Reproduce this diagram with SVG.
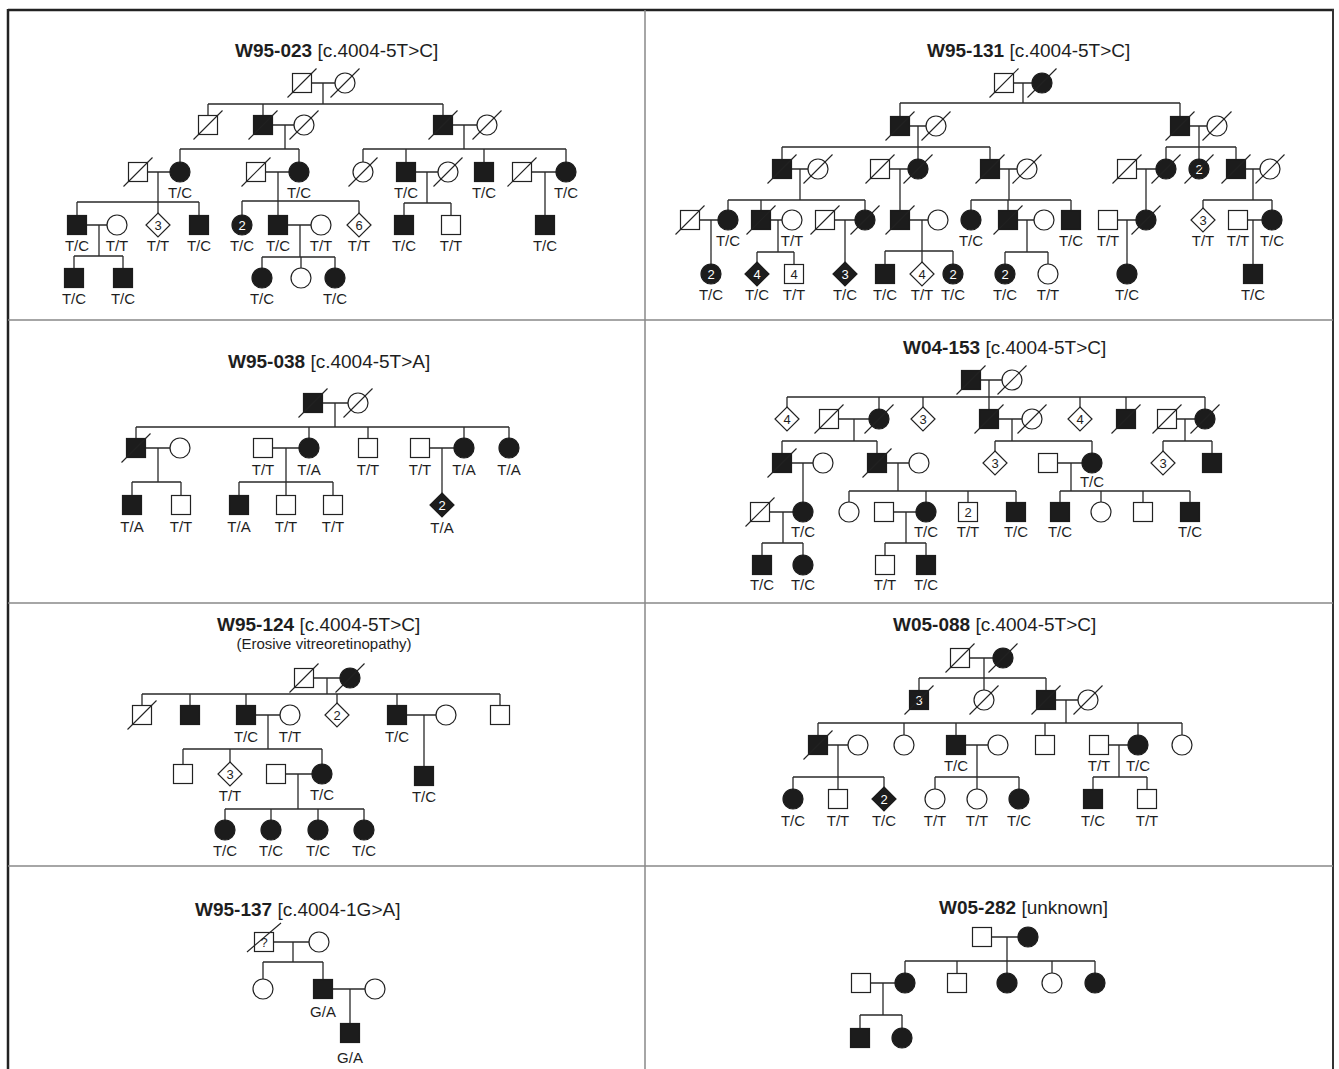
<svg xmlns="http://www.w3.org/2000/svg" xmlns:xlink="http://www.w3.org/1999/xlink" width="1339" height="1069" viewBox="0 0 1339 1069">
<style>
text{font-family:"Liberation Sans",Arial,sans-serif;fill:#1e1e1e}
.lb{font-size:15px;text-anchor:middle}
.n{font-size:13px;text-anchor:middle}
.w{fill:#fff}
.tt{font-size:19px}
.tb{font-weight:bold}
.st{font-size:15px;text-anchor:middle}
.cn path{fill:none;stroke:#2a2a2a;stroke-width:1.3}
</style>
<defs>
<rect id="s" x="-9.5" y="-9.5" width="19" height="19" fill="#fff" stroke="#222" stroke-width="1.2"/>
<rect id="S" x="-9.5" y="-9.5" width="19" height="19" fill="#1c1c1c" stroke="#1c1c1c" stroke-width="1.2"/>
<circle id="c" r="10" fill="#fff" stroke="#222" stroke-width="1.2"/>
<circle id="C" r="10" fill="#1c1c1c" stroke="#1c1c1c" stroke-width="1.2"/>
<polygon id="r" points="0,-12 12,0 0,12 -12,0" fill="#fff" stroke="#222" stroke-width="1.2"/>
<polygon id="R" points="0,-12 12,0 0,12 -12,0" fill="#1c1c1c" stroke="#1c1c1c" stroke-width="1.2"/>
<line id="x" x1="-14.5" y1="14.5" x2="14.5" y2="-14.5" stroke="#222" stroke-width="1.1"/>
</defs>
<rect width="1339" height="1069" fill="#fff"/>
<g id="frame">
<line x1="8" y1="10" x2="1334" y2="10" stroke="#222" stroke-width="2.5"/>
<line x1="8" y1="9" x2="8" y2="1069" stroke="#222" stroke-width="2.5"/>
<line x1="1333" y1="9" x2="1333" y2="1069" stroke="#333" stroke-width="2"/>
<line x1="645" y1="10" x2="645" y2="1069" stroke="#888" stroke-width="1.5"/>
<line x1="8" y1="320" x2="1333" y2="320" stroke="#888" stroke-width="1.5"/>
<line x1="8" y1="603" x2="1333" y2="603" stroke="#888" stroke-width="1.5"/>
<line x1="8" y1="866" x2="1333" y2="866" stroke="#888" stroke-width="1.5"/>
</g>
<g id="titles">
<text class="tt" x="235" y="57"><tspan class="tb">W95-023</tspan> [c.4004-5T&gt;C]</text>
<text class="tt" x="927" y="57"><tspan class="tb">W95-131</tspan> [c.4004-5T&gt;C]</text>
<text class="tt" x="228" y="368"><tspan class="tb">W95-038</tspan> [c.4004-5T&gt;A]</text>
<text class="tt" x="903" y="354"><tspan class="tb">W04-153</tspan> [c.4004-5T&gt;C]</text>
<text class="tt" x="217" y="631"><tspan class="tb">W95-124</tspan> [c.4004-5T&gt;C]</text>
<text class="st" x="324" y="649">(Erosive vitreoretinopathy)</text>
<text class="tt" x="893" y="631"><tspan class="tb">W05-088</tspan> [c.4004-5T&gt;C]</text>
<text class="tt" x="195" y="916"><tspan class="tb">W95-137</tspan> [c.4004-1G&gt;A]</text>
<text class="tt" x="939" y="914"><tspan class="tb">W05-282</tspan> [unknown]</text>
</g>
<g id="connectors" class="cn">
<path d="M302 83H345M323 83V104M208 104H443M208 104V125M263 104V125M443 104V125M263 125H304M285 125V149M180 149H299M180 149V172M299 149V172M443 125H487M464 125V149M363 149H566M363 149V172M406 149V172M484 149V172M566 149V172M138 172H180M158 172V202M77 202H199M77 202V225M158 202V225M199 202V225M256 172H299M278 172V201M242 201H359M242 201V225M278 201V225M359 201V225M406 172H448M427 172V203M404 203H451M404 203V225M451 203V225M522 172H566M545 172V225M77 225H117M99 225V256M74 256H123M74 256V278M123 256V278M278 225H321M300 225V257M262 257H335M262 257V278M301 257V278M335 257V278"/>
<path d="M1004 83H1042M1023 83V103M900 103H1180M900 103V126M1180 103V126M900 126H936M918 126V147M782 147H990M782 147V169M918 147V169M990 147V169M1180 126H1217M1199 126V147M1166 147H1236M1166 147V169M1199 147V169M1236 147V169M782 169H818M800 169V200M728 200H865M728 200V220M761 200V220M865 200V220M880 169H918M900 169V220M990 169H1027M1009 169V200M971 200H1071M971 200V220M1008 200V220M1071 200V220M1127 169H1166M1146 169V220M1236 169H1270M1253 169V200M1203 200H1272M1203 200V220M1272 200V220M690 220H728M711 220V274M761 220H792M778 220V252M757 252H794M757 252V274M794 252V274M825 220H865M845 220V274M900 220H938M922 220V251M885 251H953M885 251V274M922 251V274M953 251V274M1008 220H1044M1027 220V252M1005 252H1048M1005 252V274M1048 252V274M1108 220H1146M1127 220V274M1238 220H1272M1253 220V274"/>
<path d="M313 403H358M335 403V427M136 427H509M136 427V448M309 427V448M368 427V448M464 427V448M509 427V448M136 448H180M158 448V482M132 482H181M132 482V505M181 482V505M263 448H309M286 448V482M239 482H333M239 482V505M286 482V505M333 482V505M420 448H464M442 448V505"/>
<path d="M971 380H1012M989 380V397M787 397H1205M787 397V419M879 397V419M923 397V419M989 397V419M1080 397V419M1126 397V419M1205 397V419M829 419H879M854 419V441M782 441H877M782 441V463M877 441V463M989 419H1032M1012 419V441M995 441H1092M995 441V463M1092 441V463M1167 419H1205M1185 419V441M1163 441H1212M1163 441V463M1212 441V463M782 463H823M803 463V512M877 463H919M898 463V491M849 491H1016M849 491V512M926 491V512M968 491V512M1016 491V512M1048 463H1092M1071 463V491M1060 491H1190M1060 491V512M1101 491V512M1143 491V512M1190 491V512M760 512H803M783 512V543M762 543H803M762 543V565M803 543V565M884 512H926M906 512V543M885 543H926M885 543V565M926 543V565"/>
<path d="M304 678H350M327 678V694M142 694H500M142 694V715M190 694V715M246 694V715M337 694V715M397 694V715M500 694V715M246 715H290M268 715V749M183 749H322M183 749V774M230 749V774M322 749V774M397 715H446M424 715V776M276 774H322M298 774V809M225 809H364M225 809V830M271 809V830M318 809V830M364 809V830"/>
<path d="M960 658H1003M984 658V700M919 678H1046M919 678V700M1046 678V700M1046 700H1088M1066 700V723M818 723H1182M818 723V745M904 723V745M956 723V745M1045 723V745M1138 723V745M1182 723V745M818 745H858M838 745V777M793 777H884M793 777V799M838 777V799M884 777V799M956 745H998M977 745V777M935 777H1019M935 777V799M977 777V799M1019 777V799M1099 745H1138M1119 745V777M1093 777H1147M1093 777V799M1147 777V799"/>
<path d="M264 942H319M293 942V962M263 962H323M263 962V989M323 962V989M323 989H375M350 989V1033"/>
<path d="M982 937H1028M1007 937V961M905 961H1095M905 961V983M957 961V983M1007 961V983M1052 961V983M1095 961V983M861 983H905M883 983V1015M860 1015H902M860 1015V1038M902 1015V1038"/>
</g>
<g id="W95-023">
<g id="a1" transform="translate(302,83)"><use href="#s"/><use href="#x"/></g>
<g id="a2" transform="translate(345,83)"><use href="#c"/><use href="#x"/></g>
<g id="a3" transform="translate(208,125)"><use href="#s"/><use href="#x"/></g>
<g id="a4" transform="translate(263,125)"><use href="#S"/><use href="#x"/></g>
<g id="a5" transform="translate(304,125)"><use href="#c"/><use href="#x"/></g>
<g id="a6" transform="translate(443,125)"><use href="#S"/><use href="#x"/></g>
<g id="a7" transform="translate(487,125)"><use href="#c"/><use href="#x"/></g>
<g id="a8" transform="translate(138,172)"><use href="#s"/><use href="#x"/></g>
<g id="a9" transform="translate(180,172)"><use href="#C"/><text class="lb" y="26">T/C</text></g>
<g id="a10" transform="translate(256,172)"><use href="#s"/><use href="#x"/></g>
<g id="a11" transform="translate(299,172)"><use href="#C"/><text class="lb" y="26">T/C</text></g>
<g id="a12" transform="translate(363,172)"><use href="#c"/><use href="#x"/></g>
<g id="a13" transform="translate(406,172)"><use href="#S"/><text class="lb" y="26">T/C</text></g>
<g id="a14" transform="translate(448,172)"><use href="#c"/><use href="#x"/></g>
<g id="a15" transform="translate(484,172)"><use href="#S"/><text class="lb" y="26">T/C</text></g>
<g id="a16" transform="translate(522,172)"><use href="#s"/><use href="#x"/></g>
<g id="a17" transform="translate(566,172)"><use href="#C"/><text class="lb" y="26">T/C</text></g>
<g id="a18" transform="translate(77,225)"><use href="#S"/><text class="lb" y="26">T/C</text></g>
<g id="a19" transform="translate(117,225)"><use href="#c"/><text class="lb" y="26">T/T</text></g>
<g id="a20" transform="translate(158,225)"><use href="#r"/><text class="n" y="4.5">3</text><text class="lb" y="26">T/T</text></g>
<g id="a21" transform="translate(199,225)"><use href="#S"/><text class="lb" y="26">T/C</text></g>
<g id="a22" transform="translate(242,225)"><use href="#C"/><text class="n w" y="4.5">2</text><text class="lb" y="26">T/C</text></g>
<g id="a23" transform="translate(278,225)"><use href="#S"/><text class="lb" y="26">T/C</text></g>
<g id="a24" transform="translate(321,225)"><use href="#c"/><text class="lb" y="26">T/T</text></g>
<g id="a25" transform="translate(359,225)"><use href="#r"/><text class="n" y="4.5">6</text><text class="lb" y="26">T/T</text></g>
<g id="a26" transform="translate(404,225)"><use href="#S"/><text class="lb" y="26">T/C</text></g>
<g id="a27" transform="translate(451,225)"><use href="#s"/><text class="lb" y="26">T/T</text></g>
<g id="a28" transform="translate(545,225)"><use href="#S"/><text class="lb" y="26">T/C</text></g>
<g id="a29" transform="translate(74,278)"><use href="#S"/><text class="lb" y="26">T/C</text></g>
<g id="a30" transform="translate(123,278)"><use href="#S"/><text class="lb" y="26">T/C</text></g>
<g id="a31" transform="translate(262,278)"><use href="#C"/><text class="lb" y="26">T/C</text></g>
<g id="a32" transform="translate(301,278)"><use href="#c"/></g>
<g id="a33" transform="translate(335,278)"><use href="#C"/><text class="lb" y="26">T/C</text></g>
</g>
<g id="W95-131">
<g id="b1" transform="translate(1004,83)"><use href="#s"/><use href="#x"/></g>
<g id="b2" transform="translate(1042,83)"><use href="#C"/><use href="#x"/></g>
<g id="b3" transform="translate(900,126)"><use href="#S"/><use href="#x"/></g>
<g id="b4" transform="translate(936,126)"><use href="#c"/><use href="#x"/></g>
<g id="b5" transform="translate(1180,126)"><use href="#S"/><use href="#x"/></g>
<g id="b6" transform="translate(1217,126)"><use href="#c"/><use href="#x"/></g>
<g id="b7" transform="translate(782,169)"><use href="#S"/><use href="#x"/></g>
<g id="b8" transform="translate(818,169)"><use href="#c"/><use href="#x"/></g>
<g id="b9" transform="translate(880,169)"><use href="#s"/><use href="#x"/></g>
<g id="b10" transform="translate(918,169)"><use href="#C"/><use href="#x"/></g>
<g id="b11" transform="translate(990,169)"><use href="#S"/><use href="#x"/></g>
<g id="b12" transform="translate(1027,169)"><use href="#c"/><use href="#x"/></g>
<g id="b13" transform="translate(1127,169)"><use href="#s"/><use href="#x"/></g>
<g id="b14" transform="translate(1166,169)"><use href="#C"/><use href="#x"/></g>
<g id="b15" transform="translate(1199,169)"><use href="#C"/><text class="n w" y="4.5">2</text><use href="#x"/></g>
<g id="b16" transform="translate(1236,169)"><use href="#S"/><use href="#x"/></g>
<g id="b17" transform="translate(1270,169)"><use href="#c"/><use href="#x"/></g>
<g id="b18" transform="translate(690,220)"><use href="#s"/><use href="#x"/></g>
<g id="b19" transform="translate(728,220)"><use href="#C"/><text class="lb" y="26">T/C</text></g>
<g id="b20" transform="translate(761,220)"><use href="#S"/><use href="#x"/></g>
<g id="b21" transform="translate(792,220)"><use href="#c"/><text class="lb" y="26">T/T</text></g>
<g id="b22" transform="translate(825,220)"><use href="#s"/><use href="#x"/></g>
<g id="b23" transform="translate(865,220)"><use href="#C"/><use href="#x"/></g>
<g id="b24" transform="translate(900,220)"><use href="#S"/><use href="#x"/></g>
<g id="b25" transform="translate(938,220)"><use href="#c"/></g>
<g id="b26" transform="translate(971,220)"><use href="#C"/><text class="lb" y="26">T/C</text></g>
<g id="b27" transform="translate(1008,220)"><use href="#S"/><use href="#x"/></g>
<g id="b28" transform="translate(1044,220)"><use href="#c"/></g>
<g id="b29" transform="translate(1071,220)"><use href="#S"/><text class="lb" y="26">T/C</text></g>
<g id="b30" transform="translate(1108,220)"><use href="#s"/><text class="lb" y="26">T/T</text></g>
<g id="b31" transform="translate(1146,220)"><use href="#C"/><use href="#x"/></g>
<g id="b32" transform="translate(1203,220)"><use href="#r"/><text class="n" y="4.5">3</text><text class="lb" y="26">T/T</text></g>
<g id="b33" transform="translate(1238,220)"><use href="#s"/><text class="lb" y="26">T/T</text></g>
<g id="b34" transform="translate(1272,220)"><use href="#C"/><text class="lb" y="26">T/C</text></g>
<g id="b35" transform="translate(711,274)"><use href="#C"/><text class="n w" y="4.5">2</text><text class="lb" y="26">T/C</text></g>
<g id="b36" transform="translate(757,274)"><use href="#R"/><text class="n w" y="4.5">4</text><text class="lb" y="26">T/C</text></g>
<g id="b37" transform="translate(794,274)"><use href="#s"/><text class="n" y="4.5">4</text><text class="lb" y="26">T/T</text></g>
<g id="b38" transform="translate(845,274)"><use href="#R"/><text class="n w" y="4.5">3</text><text class="lb" y="26">T/C</text></g>
<g id="b39" transform="translate(885,274)"><use href="#S"/><text class="lb" y="26">T/C</text></g>
<g id="b40" transform="translate(922,274)"><use href="#r"/><text class="n" y="4.5">4</text><text class="lb" y="26">T/T</text></g>
<g id="b41" transform="translate(953,274)"><use href="#C"/><text class="n w" y="4.5">2</text><text class="lb" y="26">T/C</text></g>
<g id="b42" transform="translate(1005,274)"><use href="#C"/><text class="n w" y="4.5">2</text><text class="lb" y="26">T/C</text></g>
<g id="b43" transform="translate(1048,274)"><use href="#c"/><text class="lb" y="26">T/T</text></g>
<g id="b44" transform="translate(1127,274)"><use href="#C"/><text class="lb" y="26">T/C</text></g>
<g id="b45" transform="translate(1253,274)"><use href="#S"/><text class="lb" y="26">T/C</text></g>
</g>
<g id="W95-038">
<g id="c1" transform="translate(313,403)"><use href="#S"/><use href="#x"/></g>
<g id="c2" transform="translate(358,403)"><use href="#c"/><use href="#x"/></g>
<g id="c3" transform="translate(136,448)"><use href="#S"/><use href="#x"/></g>
<g id="c4" transform="translate(180,448)"><use href="#c"/></g>
<g id="c5" transform="translate(263,448)"><use href="#s"/><text class="lb" y="27">T/T</text></g>
<g id="c6" transform="translate(309,448)"><use href="#C"/><text class="lb" y="27">T/A</text></g>
<g id="c7" transform="translate(368,448)"><use href="#s"/><text class="lb" y="27">T/T</text></g>
<g id="c8" transform="translate(420,448)"><use href="#s"/><text class="lb" y="27">T/T</text></g>
<g id="c9" transform="translate(464,448)"><use href="#C"/><text class="lb" y="27">T/A</text></g>
<g id="c10" transform="translate(509,448)"><use href="#C"/><text class="lb" y="27">T/A</text></g>
<g id="c11" transform="translate(132,505)"><use href="#S"/><text class="lb" y="27">T/A</text></g>
<g id="c12" transform="translate(181,505)"><use href="#s"/><text class="lb" y="27">T/T</text></g>
<g id="c13" transform="translate(239,505)"><use href="#S"/><text class="lb" y="27">T/A</text></g>
<g id="c14" transform="translate(286,505)"><use href="#s"/><text class="lb" y="27">T/T</text></g>
<g id="c15" transform="translate(333,505)"><use href="#s"/><text class="lb" y="27">T/T</text></g>
<g id="c16" transform="translate(442,505)"><use href="#R"/><text class="n w" y="4.5">2</text><text class="lb" y="28">T/A</text></g>
</g>
<g id="W04-153">
<g id="e1" transform="translate(971,380)"><use href="#S"/><use href="#x"/></g>
<g id="e2" transform="translate(1012,380)"><use href="#c"/><use href="#x"/></g>
<g id="e3" transform="translate(787,419)"><use href="#r"/><text class="n" y="4.5">4</text></g>
<g id="e4" transform="translate(829,419)"><use href="#s"/><use href="#x"/></g>
<g id="e5" transform="translate(879,419)"><use href="#C"/><use href="#x"/></g>
<g id="e6" transform="translate(923,419)"><use href="#r"/><text class="n" y="4.5">3</text></g>
<g id="e7" transform="translate(989,419)"><use href="#S"/><use href="#x"/></g>
<g id="e8" transform="translate(1032,419)"><use href="#c"/><use href="#x"/></g>
<g id="e9" transform="translate(1080,419)"><use href="#r"/><text class="n" y="4.5">4</text></g>
<g id="e10" transform="translate(1126,419)"><use href="#S"/><use href="#x"/></g>
<g id="e11" transform="translate(1167,419)"><use href="#s"/><use href="#x"/></g>
<g id="e12" transform="translate(1205,419)"><use href="#C"/><use href="#x"/></g>
<g id="e13" transform="translate(782,463)"><use href="#S"/><use href="#x"/></g>
<g id="e14" transform="translate(823,463)"><use href="#c"/></g>
<g id="e15" transform="translate(877,463)"><use href="#S"/><use href="#x"/></g>
<g id="e16" transform="translate(919,463)"><use href="#c"/></g>
<g id="e17" transform="translate(995,463)"><use href="#r"/><text class="n" y="4.5">3</text></g>
<g id="e18" transform="translate(1048,463)"><use href="#s"/></g>
<g id="e19" transform="translate(1092,463)"><use href="#C"/><text class="lb" y="24">T/C</text></g>
<g id="e20" transform="translate(1163,463)"><use href="#r"/><text class="n" y="4.5">3</text></g>
<g id="e21" transform="translate(1212,463)"><use href="#S"/></g>
<g id="e22" transform="translate(760,512)"><use href="#s"/><use href="#x"/></g>
<g id="e23" transform="translate(803,512)"><use href="#C"/><text class="lb" y="25">T/C</text></g>
<g id="e24" transform="translate(849,512)"><use href="#c"/></g>
<g id="e25" transform="translate(884,512)"><use href="#s"/></g>
<g id="e26" transform="translate(926,512)"><use href="#C"/><text class="lb" y="25">T/C</text></g>
<g id="e27" transform="translate(968,512)"><use href="#s"/><text class="n" y="4.5">2</text><text class="lb" y="25">T/T</text></g>
<g id="e28" transform="translate(1016,512)"><use href="#S"/><text class="lb" y="25">T/C</text></g>
<g id="e29" transform="translate(1060,512)"><use href="#S"/><text class="lb" y="25">T/C</text></g>
<g id="e30" transform="translate(1101,512)"><use href="#c"/></g>
<g id="e31" transform="translate(1143,512)"><use href="#s"/></g>
<g id="e32" transform="translate(1190,512)"><use href="#S"/><text class="lb" y="25">T/C</text></g>
<g id="e33" transform="translate(762,565)"><use href="#S"/><text class="lb" y="25">T/C</text></g>
<g id="e34" transform="translate(803,565)"><use href="#C"/><text class="lb" y="25">T/C</text></g>
<g id="e35" transform="translate(885,565)"><use href="#s"/><text class="lb" y="25">T/T</text></g>
<g id="e36" transform="translate(926,565)"><use href="#S"/><text class="lb" y="25">T/C</text></g>
</g>
<g id="W95-124">
<g id="f1" transform="translate(304,678)"><use href="#s"/><use href="#x"/></g>
<g id="f2" transform="translate(350,678)"><use href="#C"/><use href="#x"/></g>
<g id="f3" transform="translate(142,715)"><use href="#s"/><use href="#x"/></g>
<g id="f4" transform="translate(190,715)"><use href="#S"/></g>
<g id="f5" transform="translate(246,715)"><use href="#S"/><text class="lb" y="27">T/C</text></g>
<g id="f6" transform="translate(290,715)"><use href="#c"/><text class="lb" y="27">T/T</text></g>
<g id="f7" transform="translate(337,715)"><use href="#r"/><text class="n" y="4.5">2</text></g>
<g id="f8" transform="translate(397,715)"><use href="#S"/><text class="lb" y="27">T/C</text></g>
<g id="f9" transform="translate(446,715)"><use href="#c"/></g>
<g id="f10" transform="translate(500,715)"><use href="#s"/></g>
<g id="f11" transform="translate(183,774)"><use href="#s"/></g>
<g id="f12" transform="translate(230,774)"><use href="#r"/><text class="n" y="4.5">3</text><text class="lb" y="27">T/T</text></g>
<g id="f13" transform="translate(276,774)"><use href="#s"/></g>
<g id="f14" transform="translate(322,774)"><use href="#C"/><text class="lb" y="26">T/C</text></g>
<g id="f15" transform="translate(424,776)"><use href="#S"/><text class="lb" y="26">T/C</text></g>
<g id="f16" transform="translate(225,830)"><use href="#C"/><text class="lb" y="26">T/C</text></g>
<g id="f17" transform="translate(271,830)"><use href="#C"/><text class="lb" y="26">T/C</text></g>
<g id="f18" transform="translate(318,830)"><use href="#C"/><text class="lb" y="26">T/C</text></g>
<g id="f19" transform="translate(364,830)"><use href="#C"/><text class="lb" y="26">T/C</text></g>
</g>
<g id="W05-088">
<g id="g1" transform="translate(960,658)"><use href="#s"/><use href="#x"/></g>
<g id="g2" transform="translate(1003,658)"><use href="#C"/><use href="#x"/></g>
<g id="g3" transform="translate(919,700)"><use href="#S"/><text class="n w" y="4.5">3</text><use href="#x"/></g>
<g id="g4" transform="translate(984,700)"><use href="#c"/><use href="#x"/></g>
<g id="g5" transform="translate(1046,700)"><use href="#S"/><use href="#x"/></g>
<g id="g6" transform="translate(1088,700)"><use href="#c"/><use href="#x"/></g>
<g id="g7" transform="translate(818,745)"><use href="#S"/><use href="#x"/></g>
<g id="g8" transform="translate(858,745)"><use href="#c"/></g>
<g id="g9" transform="translate(904,745)"><use href="#c"/></g>
<g id="g10" transform="translate(956,745)"><use href="#S"/><text class="lb" y="26">T/C</text></g>
<g id="g11" transform="translate(998,745)"><use href="#c"/></g>
<g id="g12" transform="translate(1045,745)"><use href="#s"/></g>
<g id="g13" transform="translate(1099,745)"><use href="#s"/><text class="lb" y="26">T/T</text></g>
<g id="g14" transform="translate(1138,745)"><use href="#C"/><text class="lb" y="26">T/C</text></g>
<g id="g15" transform="translate(1182,745)"><use href="#c"/></g>
<g id="g16" transform="translate(793,799)"><use href="#C"/><text class="lb" y="27">T/C</text></g>
<g id="g17" transform="translate(838,799)"><use href="#s"/><text class="lb" y="27">T/T</text></g>
<g id="g18" transform="translate(884,799)"><use href="#R"/><text class="n w" y="4.5">2</text><text class="lb" y="27">T/C</text></g>
<g id="g19" transform="translate(935,799)"><use href="#c"/><text class="lb" y="27">T/T</text></g>
<g id="g20" transform="translate(977,799)"><use href="#c"/><text class="lb" y="27">T/T</text></g>
<g id="g21" transform="translate(1019,799)"><use href="#C"/><text class="lb" y="27">T/C</text></g>
<g id="g22" transform="translate(1093,799)"><use href="#S"/><text class="lb" y="27">T/C</text></g>
<g id="g23" transform="translate(1147,799)"><use href="#s"/><text class="lb" y="27">T/T</text></g>
</g>
<g id="W95-137">
<g id="h1" transform="translate(264,942)"><use href="#s"/><text class="n" y="4.5">?</text><line x1="-17" y1="10" x2="17" y2="-19" stroke="#222" stroke-width="1.1"/></g>
<g id="h2" transform="translate(319,942)"><use href="#c"/></g>
<g id="h3" transform="translate(263,989)"><use href="#c"/></g>
<g id="h4" transform="translate(323,989)"><use href="#S"/><text class="lb" y="28">G/A</text></g>
<g id="h5" transform="translate(375,989)"><use href="#c"/></g>
<g id="h6" transform="translate(350,1033)"><use href="#S"/><text class="lb" y="30">G/A</text></g>
</g>
<g id="W05-282">
<g id="k1" transform="translate(982,937)"><use href="#s"/></g>
<g id="k2" transform="translate(1028,937)"><use href="#C"/></g>
<g id="k3" transform="translate(861,983)"><use href="#s"/></g>
<g id="k4" transform="translate(905,983)"><use href="#C"/></g>
<g id="k5" transform="translate(957,983)"><use href="#s"/></g>
<g id="k6" transform="translate(1007,983)"><use href="#C"/></g>
<g id="k7" transform="translate(1052,983)"><use href="#c"/></g>
<g id="k8" transform="translate(1095,983)"><use href="#C"/></g>
<g id="k9" transform="translate(860,1038)"><use href="#S"/></g>
<g id="k10" transform="translate(902,1038)"><use href="#C"/></g>
</g>
</svg>
